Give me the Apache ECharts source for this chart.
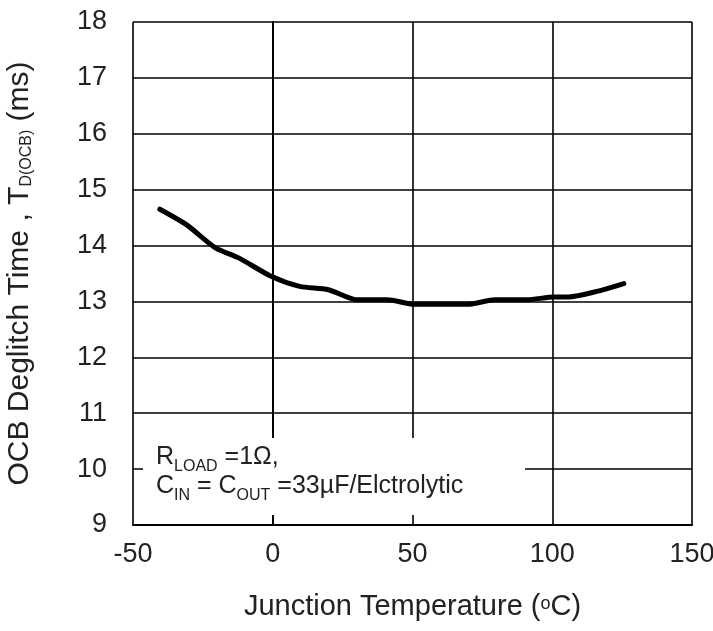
<!DOCTYPE html>
<html>
<head>
<meta charset="utf-8" />
<title>OCB Deglitch Time vs Junction Temperature</title>
<script type="text/javascript" src="https://cdn.jsdelivr.net/npm/echarts@6/dist/echarts.min.js"></script>
<style>
  html, body { margin: 0; padding: 0; background: #fff; }
  #chart { width: 713px; height: 631px; }
</style>
</head>
<body>
<div id="chart"></div>
<script type="text/javascript">
// junction temperature (°C) and deglitch time (ms)
var temps = [-40.4, -30.8, -20.5, -12.2, -0.6, 9.6, 19.9, 30.1, 41, 50.6, 69.9, 79.5, 91, 100.6, 105.8, 116, 125.6];
var times = [14.65, 14.37, 13.96, 13.78, 13.45, 13.27, 13.21, 13.03, 13.03, 12.95, 12.95, 13.03, 13.03, 13.08, 13.08, 13.18, 13.32];
var xTicks = [-50, 0, 50, 100, 150];
var yTicks = [9, 10, 11, 12, 13, 14, 15, 16, 17, 18];

var font = '"Liberation Sans", Arial, sans-serif';
var ink = '#222';

var chart = echarts.init(document.getElementById('chart'));

var pts = [];
for (var i = 0; i < temps.length; i++) pts.push([temps[i], times[i]]);

chart.setOption({
    animation: false,
    backgroundColor: '#fff',
    grid: { left: 133, right: 21, top: 22, bottom: 106, outerBoundsMode: 'none', containLabel: false },
    xAxis: {
        type: 'value',
        min: xTicks[0],
        max: xTicks[xTicks.length - 1],
        interval: 50,
        axisLine: { show: true, lineStyle: { color: '#000', width: 2 } },
        axisTick: { show: false },
        splitLine: { show: true, lineStyle: { color: '#000', width: 1.6 } },
        axisLabel: { fontFamily: font, fontSize: 27, color: ink, margin: 16 },
        name: '{t|Junction Temperature (}{s|o}{t|C)}',
        nameLocation: 'middle',
        nameGap: 67,
        nameTextStyle: {
            fontFamily: font, fontSize: 29, color: ink,
            rich: {
                t: { fontFamily: font, fontSize: 29, color: ink, lineHeight: 32, verticalAlign: 'top' },
                s: { fontFamily: font, fontSize: 18, color: ink, lineHeight: 18, verticalAlign: 'top', padding: [3, 0, 0, 0] }
            }
        }
    },
    yAxis: {
        type: 'value',
        min: yTicks[0],
        max: yTicks[yTicks.length - 1],
        interval: 1,
        axisLine: { show: true, lineStyle: { color: '#000', width: 2 } },
        axisTick: { show: false },
        splitLine: { show: true, lineStyle: { color: '#000', width: 1.6 } },
        axisLabel: { fontFamily: font, fontSize: 27, color: ink, margin: 26 },
        name: '{t|OCB Deglitch Time , T}{s|D(OCB)}{t| (ms)}',
        nameLocation: 'middle',
        nameGap: 95,
        nameTextStyle: {
            fontFamily: font, fontSize: 30, color: ink,
            rich: {
                t: { fontFamily: font, fontSize: 30, color: ink, lineHeight: 33, verticalAlign: 'top' },
                s: { fontFamily: font, fontSize: 16, color: ink, lineHeight: 16, verticalAlign: 'top', padding: [14, 0, 0, 0] }
            }
        }
    },
    series: [{
        type: 'line',
        data: pts,
        showSymbol: false,
        smooth: 0.25,
        lineStyle: { color: '#000', width: 5, cap: 'round', join: 'round' },
        z: 5
    }],
    graphic: [
        {
            type: 'rect',
            left: 143, top: 438,
            shape: { width: 382, height: 77 },
            style: { fill: '#fff' },
            z: 50
        },
        {
            type: 'text',
            left: 156, top: 445,
            z: 51,
            style: {
                text: '{m|R}{s|LOAD}{m| =1Ω,}\n{m|C}{s|IN}{m| = C}{s|OUT}{m| =33µF/Elctrolytic}',
                rich: {
                    m: { fontFamily: font, fontSize: 25, fill: ink, lineHeight: 29, verticalAlign: 'top' },
                    s: { fontFamily: font, fontSize: 16, fill: ink, lineHeight: 16, verticalAlign: 'top', padding: [14, 0, 0, 0] }
                }
            }
        }
    ]
});
</script>
</body>
</html>
